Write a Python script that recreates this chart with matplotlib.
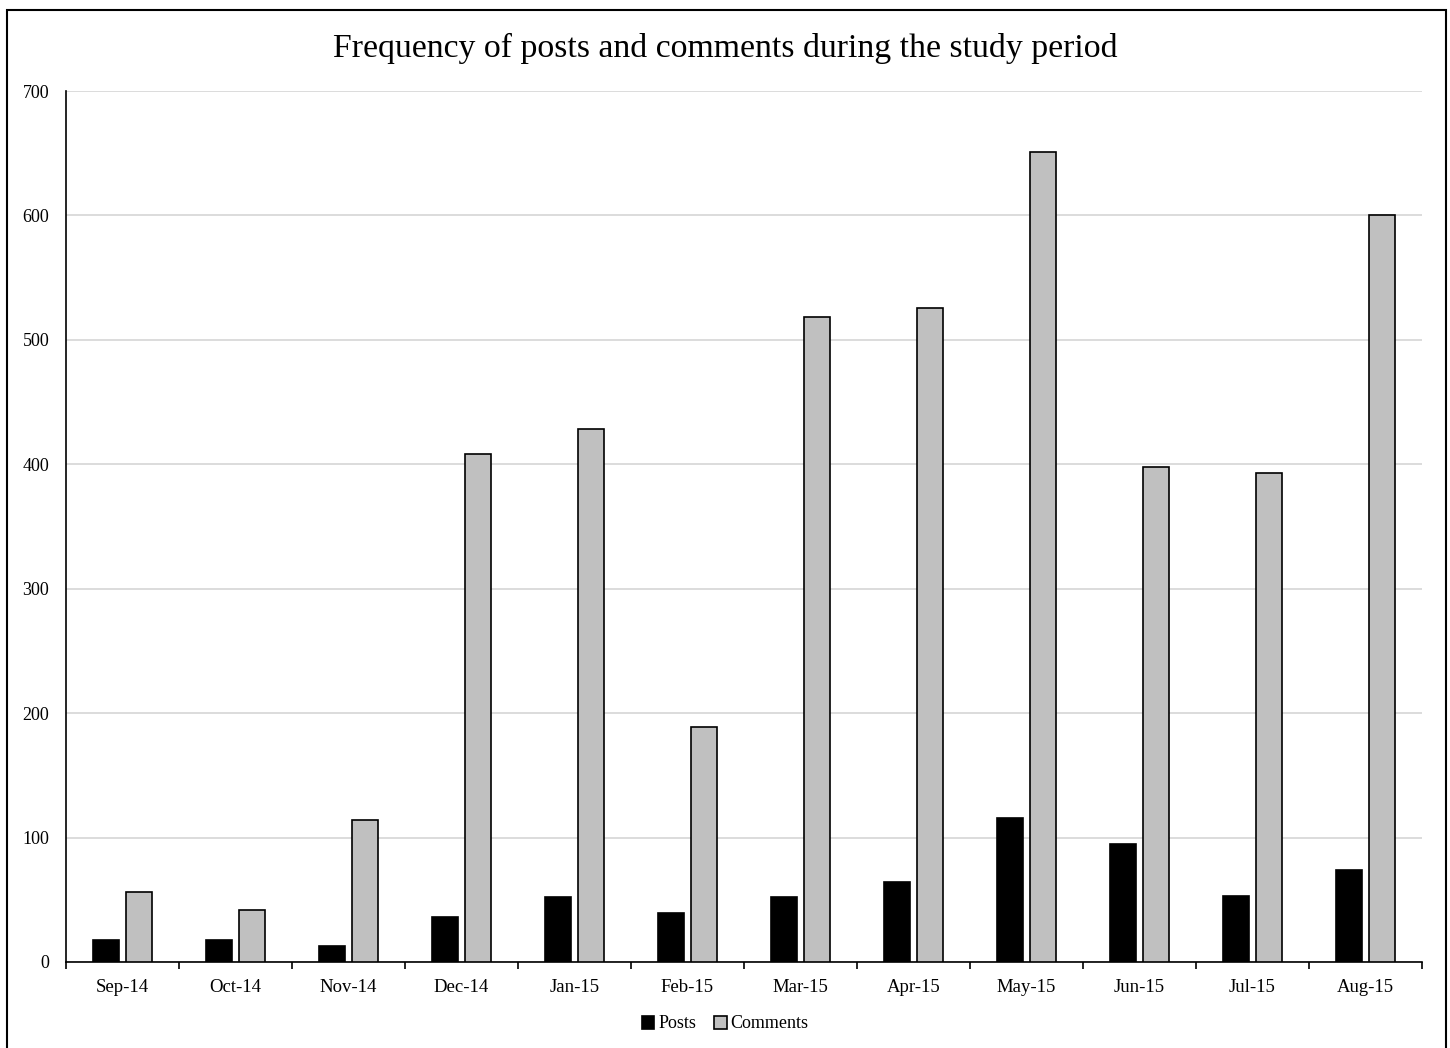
import numpy as np
import matplotlib.pyplot as plt
from matplotlib.patches import Rectangle

plt.rcParams['font.family'] = ['Liberation Serif', 'DejaVu Serif']

months = ["Sep-14", "Oct-14", "Nov-14", "Dec-14", "Jan-15", "Feb-15",
          "Mar-15", "Apr-15", "May-15", "Jun-15", "Jul-15", "Aug-15"]
posts = [18, 18, 13, 36, 52, 39, 52, 64, 116, 95, 53, 74]
comments = [56, 42, 114, 408, 428, 189, 518, 526, 651, 398, 393, 600]

W, H = 1450, 1048
fig = plt.figure(figsize=(W / 100, H / 100), dpi=100)

# frame round the whole chart
fig.patches.append(Rectangle((7 / W, -0.05), 1439 / W, 1.05 - 10 / H,
                             transform=fig.transFigure, fill=False,
                             edgecolor='black', linewidth=1.5))

ax = fig.add_axes([66 / W, 1 - 962 / H, (1422 - 66) / W, (962 - 91) / H])

x = np.arange(len(months))
bw = 0.23
ax.bar(x - 0.145, posts, bw, color='black', edgecolor='black', linewidth=1.2,
       label='Posts', zorder=3)
ax.bar(x + 0.145, comments, bw, color='#c0c0c0', edgecolor='black',
       linewidth=1.2, label='Comments', zorder=3)

ax.set_xlim(-0.5, len(months) - 0.5)
ax.set_ylim(0, 700)
ax.set_yticks(range(0, 701, 100))
ax.yaxis.grid(True, color='#d9d9d9', linewidth=1.3, zorder=0)
ax.tick_params(axis='y', length=0, labelsize=13, pad=12)

# month labels in the middle, tick marks on the boundaries
ax.set_xticks(x)
ax.set_xticklabels(months)
ax.set_xticks(np.arange(-0.5, len(months)), minor=True)
ax.tick_params(axis='x', which='major', length=0, labelsize=13.5, pad=12)
ax.tick_params(axis='x', which='minor', length=5, width=1.2, direction='out')

for s in ['top', 'right']:
    ax.spines[s].set_visible(False)
ax.spines['left'].set_linewidth(1.2)
ax.spines['bottom'].set_linewidth(1.2)

fig.text(0.5, 1 - 48 / H, 'Frequency of posts and comments during the study period',
         ha='center', va='center', fontsize=24.3)

fig.legend(loc='center', bbox_to_anchor=(0.5, 1 - 1024 / H), ncol=2,
           frameon=False, fontsize=13, handlelength=0.7, handleheight=0.7,
           handletextpad=0.2, columnspacing=1.0)

fig.savefig('out.png', dpi=100)
